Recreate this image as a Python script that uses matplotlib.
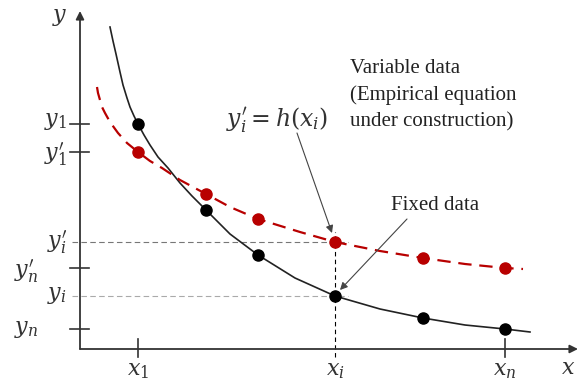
import numpy as np
import matplotlib.pyplot as plt

plt.rcParams['mathtext.fontset'] = 'dejavuserif'

# fixed data (black) and empirical equation (red), schematic units
fixed_x = [58, 126, 178, 255, 343, 425]
fixed_y = [225, 139, 94, 53, 31, 20]
var_x = [58, 126, 178, 255, 343, 425]
var_y = [197, 155, 130, 107, 91, 81]

# curves
fixed_curve_x = [30, 33, 36, 40, 43, 47, 50, 54, 58, 64, 70, 78, 88, 100, 112, 126, 150, 178, 215, 255, 300, 343, 385, 425, 450]
fixed_curve_y = [322, 308, 295, 277, 264, 251, 242, 233, 225, 214, 204, 192, 181, 166, 153, 139, 115, 94, 71, 53, 40, 31, 24, 20, 17]
var_curve_x = [17, 18, 20, 22, 25, 30, 38, 47, 58, 70, 82, 100, 126, 150, 178, 220, 255, 300, 343, 385, 425, 443]
var_curve_y = [262, 256, 249, 242, 236, 227, 216, 206, 197, 188, 181, 169, 155, 142, 130, 117, 107, 98, 91, 85, 81, 80]

red = '#b80000'
axc = '#333333'

fig = plt.figure(figsize=(5.79, 3.81), dpi=100)
ax = fig.add_axes([0, 0, 1, 1])
ax.set_xlim(-80, 499)
ax.set_ylim(-32, 349)
ax.axis('off')

# axes with arrows
ax.annotate('', xy=(0, 338), xytext=(0, 0),
            arrowprops=dict(arrowstyle='-|>', color=axc, lw=1.3, mutation_scale=12, shrinkA=0, shrinkB=0))
ax.annotate('', xy=(498, 0), xytext=(0, 0),
            arrowprops=dict(arrowstyle='-|>', color=axc, lw=1.3, mutation_scale=12, shrinkA=0, shrinkB=0))
ax.text(-20, 331, '$y$', fontsize=16, ha='center', va='center', color=axc)
ax.text(488, -19, '$x$', fontsize=16, ha='center', va='center', color=axc)

# guide lines for i
xi, yi, yi2 = fixed_x[3], fixed_y[3], var_y[3]
ax.plot([-8, 268], [yi2, yi2], ls=(0, (5, 3)), color='#777777', lw=0.8)
ax.plot([-8, 268], [yi, yi], ls=(0, (5, 3)), color='#aaaaaa', lw=0.8)
ax.plot([xi, xi], [-8, 117], ls=(0, (4, 3)), color='black', lw=0.8)

# y ticks
ytick_vals = [fixed_y[0], var_y[0], var_y[-1], fixed_y[-1]]
for v in ytick_vals:
    ax.plot([-10, 9], [v, v], color=axc, lw=1.2)
# x ticks
for v in [fixed_x[0], fixed_x[-1]]:
    ax.plot([v, v], [-8, 10], color=axc, lw=1.2)

# tick labels
lab = dict(fontsize=16, va='center', color=axc)
ax.text(-13, fixed_y[0] + 2, "$y_1$", ha='right', **lab)
ax.text(-13, var_y[0] - 2, "$y_1'$", ha='right', **lab)
ax.text(-13, yi2, "$y_i'$", ha='right', **lab)
ax.text(-42, var_y[-1] - 3, "$y_n'$", ha='right', **lab)
ax.text(-13, yi, "$y_i$", ha='right', **lab)
ax.text(-42, fixed_y[-1], "$y_n$", ha='right', **lab)
ax.text(fixed_x[0], -22, "$x_1$", ha='center', **lab)
ax.text(xi, -22, "$x_i$", ha='center', **lab)
ax.text(fixed_x[-1], -22, "$x_n$", ha='center', **lab)

# curves
ax.plot(fixed_curve_x, fixed_curve_y, color='#222222', lw=1.2)
ax.plot(var_curve_x, var_curve_y, color=red, lw=1.6, ls=(0, (6, 3.5)))
ax.plot(fixed_x, fixed_y, 'o', color='black', ms=8, zorder=5)
ax.plot(var_x, var_y, 'o', color=red, ms=8, zorder=5)

# annotations
ax.text(197, 229, "$y_i' = h(x_i)$", fontsize=17, ha='center', va='center', color=axc)
ax.annotate('', xy=(252, 116), xytext=(217, 216),
            arrowprops=dict(arrowstyle='-|>', color='#444444', lw=0.8, mutation_scale=11, shrinkA=0, shrinkB=0))
ax.text(270, 290, 'Variable data\n(Empirical equation\nunder construction)',
        fontsize=15, family='Liberation Serif', ha='left', va='top', color='#222222', linespacing=1.5)
ax.text(355, 144, 'Fixed data', fontsize=15, family='Liberation Serif', ha='center', va='center', color='#222222')
ax.annotate('', xy=(260, 59), xytext=(327, 130),
            arrowprops=dict(arrowstyle='-|>', color='#444444', lw=0.8, mutation_scale=11, shrinkA=0, shrinkB=0))

fig.savefig('out.png', dpi=100)
